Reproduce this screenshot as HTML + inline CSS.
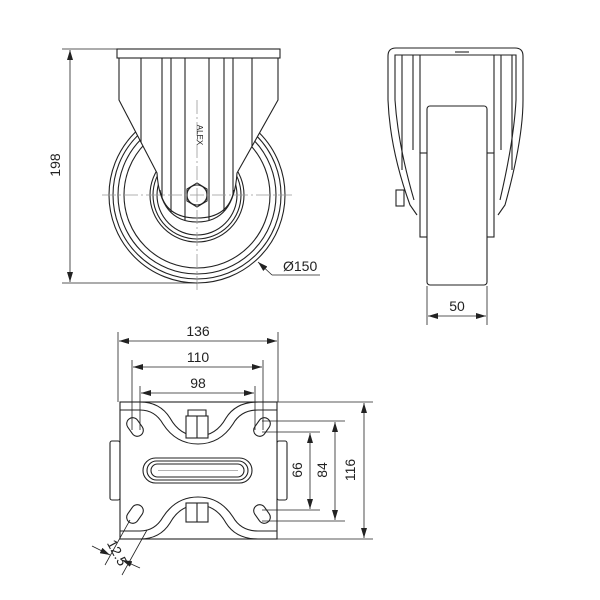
<!DOCTYPE html>
<html><head><style>
html,body{margin:0;padding:0;background:#fff}
svg{display:block}
text{font-family:"Liberation Sans",sans-serif;font-size:14px;fill:#222}
</style></head><body>
<svg width="600" height="600" viewBox="0 0 600 600" xmlns="http://www.w3.org/2000/svg">
<defs>
<marker id="a" markerWidth="10" markerHeight="6" refX="10" refY="3" orient="auto-start-reverse" markerUnits="userSpaceOnUse"><path d="M0,0 L10,3 L0,6 z" fill="#222"/></marker>
<clipPath id="br"><path d="M119,58 L119,100 L157,173 Q160,222 197,222 Q234,222 237,173 L278,100 L278,58 Z"/></clipPath>
</defs>
<g fill="none" stroke="#222" stroke-width="1.1">
<circle cx="197" cy="195" r="88"/>
<circle cx="197" cy="195" r="84"/>
<circle cx="197" cy="195" r="79"/>
<circle cx="197" cy="195" r="73"/>
<circle cx="197" cy="195" r="47"/>
<circle cx="197" cy="195" r="44"/>
<circle cx="197" cy="195" r="40"/>
<path d="M119,58 L119,100 L157,173 Q160,222 197,222 Q234,222 237,173 L278,100 L278,58 Z" fill="#fff"/>
<rect x="117" y="49" width="163" height="9" fill="#fff"/>
<g clip-path="url(#br)">
<path d="M141,58V220 M162,58V220 M171,58V220 M185,58V220 M209,58V220 M224,58V220 M233,58V220 M252,58V220"/>
<path d="M160,190 Q165,218 197,218 Q229,218 234,190"/>
</g>
<polygon points="197,183 207,189 207,201 197,207 187,201 187,189" fill="#fff"/>
<circle cx="197" cy="195" r="10"/>
<g stroke="#999" stroke-width="0.8" stroke-dasharray="14,3,2,3">
<path d="M102,195H293 M197,100V290"/>
</g>
<path d="M62,49H118 M62,283H197" stroke-width="0.8"/>
<path d="M70,50V282" stroke-width="0.8" marker-start="url(#a)" marker-end="url(#a)"/>
<path d="M272,275L258,262" stroke-width="0.8" marker-end="url(#a)"/>
<path d="M272,275H320" stroke-width="0.8"/>
<!-- SIDE VIEW -->
<path d="M388,100 V56 Q388,48 396,48 H515 Q523,48 523,56 V100 Q523,140 505,205 L498,215 M388,100 Q390,150 410,205 L417,215"/>
<path d="M395,100 V55 H516 V100 Q514,140 500,200 M395,100 Q398,145 414,200"/>
<path d="M402,55V170 M413,55V150 M420,55V153 M494,55V153 M501,55V150 M512,55V170"/>
<path d="M455,52h14"/>
<rect x="420" y="153" width="74" height="84" fill="#fff"/>
<rect x="427" y="106" width="60" height="179" rx="3" fill="#fff"/>
<rect x="396" y="190" width="8" height="16"/>
<path d="M427,286V325 M487,286V325" stroke-width="0.8"/>
<path d="M428,316H486" stroke-width="0.8" marker-start="url(#a)" marker-end="url(#a)"/>
<!-- BOTTOM VIEW -->
<rect x="110" y="441" width="10" height="59" rx="2"/>
<rect x="277" y="441" width="10" height="59" rx="2"/>
<rect x="120" y="402" width="157" height="137" fill="#fff"/>
<path d="M140,402 Q160,402 170,418 Q180,436 198,436 Q216,436 226,418 Q236,402 258,402"/>
<path d="M140,410 Q155,410 163,424 Q176,444 198,444 Q220,444 233,424 Q241,410 258,410"/>
<path d="M140,539 Q160,539 170,523 Q180,505 198,505 Q216,505 226,523 Q236,539 258,539"/>
<path d="M140,531 Q155,531 163,517 Q176,497 198,497 Q220,497 233,517 Q241,531 258,531"/>
<path d="M120,410H140 M258,410H277 M120,531H140 M258,531H277"/>
<rect x="186" y="416" width="22" height="22" fill="#fff"/>
<path d="M197,416V438 M188,416V410H206V416"/>
<rect x="186" y="503" width="22" height="19" fill="#fff"/>
<path d="M197,503V522"/>
<rect x="143" y="458" width="109" height="25" rx="12.5"/>
<rect x="147" y="461" width="101" height="19" rx="9.5"/>
<rect x="151" y="464" width="93" height="13" rx="6.5"/>
<path d="M158,470.5H238" stroke="#999" stroke-width="0.7"/>
<g transform="translate(135,427) rotate(55)"><rect x="-10" y="-6" width="20" height="12" rx="6"/></g>
<g transform="translate(262,427) rotate(-55)"><rect x="-10" y="-6" width="20" height="12" rx="6"/></g>
<g transform="translate(135,514) rotate(-55)"><rect x="-10" y="-6" width="20" height="12" rx="6"/></g>
<g transform="translate(262,514) rotate(55)"><rect x="-10" y="-6" width="20" height="12" rx="6"/></g>
<g stroke-width="0.8">
<path d="M118,332V402 M278,332V402 M132,360V430 M263,360V430 M140,386V430 M255,386V430"/>
<path d="M119,341H277" marker-start="url(#a)" marker-end="url(#a)"/>
<path d="M133,367H262" marker-start="url(#a)" marker-end="url(#a)"/>
<path d="M141,393H254" marker-start="url(#a)" marker-end="url(#a)"/>
<path d="M277,402H373 M262,421H345 M262,432H320 M262,510H320 M262,521H345 M277,539H373"/>
<path d="M364,403V538" marker-start="url(#a)" marker-end="url(#a)"/>
<path d="M335,422V520" marker-start="url(#a)" marker-end="url(#a)"/>
<path d="M310,433V509" marker-start="url(#a)" marker-end="url(#a)"/>
<path d="M130,520L105,565 M147,530L122,575"/>
<path d="M92,546L110,555" marker-end="url(#a)"/>
<path d="M140,568L122,560" marker-end="url(#a)"/>
</g>
</g>
<text x="60" y="165" text-anchor="middle" transform="rotate(-90 60 165)">198</text>
<text x="283" y="271">Ø150</text>
<text x="457" y="311" text-anchor="middle">50</text>
<text x="198" y="336" text-anchor="middle">136</text>
<text x="198" y="362" text-anchor="middle">110</text>
<text x="198" y="388" text-anchor="middle">98</text>
<text x="355" y="470" text-anchor="middle" transform="rotate(-90 355 470)">116</text>
<text x="327" y="470" text-anchor="middle" transform="rotate(-90 327 470)">84</text>
<text x="302" y="470" text-anchor="middle" transform="rotate(-90 302 470)">66</text>
<text x="113" y="555" text-anchor="middle" transform="rotate(62 113 555)">12.5</text>
<text x="197" y="135" text-anchor="middle" transform="rotate(90 197 135)" style="font-size:8px">ALEX</text>
</svg>
</body></html>
